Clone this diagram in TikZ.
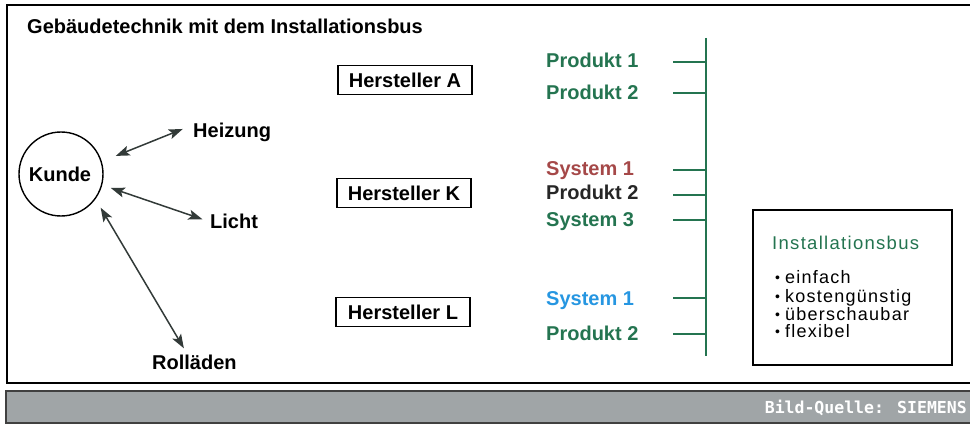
\documentclass[tikz,border=0pt]{standalone}
\usepackage{fontspec}
\setmainfont{Liberation Sans}
\newfontfamily\srcfont{DejaVu Sans Mono}
\usetikzlibrary{arrows.meta}
\definecolor{busgreen}{RGB}{36,116,80}
\definecolor{sysred}{RGB}{165,72,72}
\definecolor{sysblue}{RGB}{38,150,225}
\definecolor{bargray}{RGB}{160,165,167}
\definecolor{arrowgray}{RGB}{50,58,56}
\tikzset{
  bigtext/.style={font=\fontsize{20}{22}\selectfont\bfseries, inner sep=0pt},
  label/.style={bigtext, anchor=base west},
  maker/.style={draw=black, line width=1.6pt, minimum width=134pt, minimum height=29pt, inner sep=0pt, font=\fontsize{20}{22}\selectfont\bfseries},
  biarrow/.style={draw=arrowgray, line width=1.5pt, {Stealth[length=14pt,width=10pt,inset=3pt]}-{Stealth[length=14pt,width=10pt,inset=3pt]}},
  bus/.style={draw=busgreen, line width=2.6pt},
  listitem/.style={anchor=base west, inner sep=0pt, font=\fontsize{18}{19}\selectfont\addfontfeatures{LetterSpace=7}},
}
\newcommand{\blt}{\raisebox{0.5pt}{\fontsize{14}{14}\selectfont•}\hspace{5pt}}
\begin{document}
\begin{tikzpicture}[x=1pt,y=-1pt]
\useasboundingbox (0,0) rectangle (970,425);
% frame
\draw[line width=2.4pt] (972,5) -- (7,5) -- (7,383) -- (972,383);
% source bar
\fill[bargray] (6,391) rectangle (972,423);
\draw[line width=1.6pt, draw=black!75] (972,391) -- (6,391) -- (6,423) -- (972,423);
\node[anchor=base east, inner sep=0pt, text=white, font=\srcfont\bfseries\fontsize{16.5}{18}\selectfont] (src) at (967,413) {Bild-Quelle: SIEMENS};
% title
\node[label] (title) at (27,34) {Gebäudetechnik mit dem Installationsbus};
% customer
\node[draw, circle, line width=1.4pt, minimum size=84pt, inner sep=0pt] (kunde) at (61,174) {};
\node[bigtext] (kundetxt) at (60,174) {Kunde};
\node[label] (heiz) at (193,138) {Heizung};
\node[label] (licht) at (210,229) {Licht};
\node[label] (roll) at (152,369) {Rolläden};
\draw[biarrow, shorten <=15pt, shorten >=11pt] (kunde.17) -- ([yshift=8pt]heiz.west);
\draw[biarrow, shorten <=9pt, shorten >=8pt] (kunde.-15) -- (licht.west);
\draw[biarrow, shorten <=10pt, shorten >=7pt] (kunde.-36) -- ([xshift=-7pt]roll.north);
% manufacturers
\node[maker] (ha) at (405,80) {Hersteller A};
\node[maker] (hk) at (404,193) {Hersteller K};
\node[maker] (hl) at (403,312) {Hersteller L};
% products
\node[label, text=busgreen] (pa1) at (546,68) {Produkt 1};
\node[label, text=busgreen] (pa2) at (546,100) {Produkt 2};
\node[label, text=sysred] (pk1) at (546,176) {System 1};
\node[label, text=black!85] (pk2) at (546,200) {Produkt 2};
\node[label, text=busgreen] (pk3) at (546,226) {System 3};
\node[label, text=sysblue] (pl1) at (546,305) {System 1};
\node[label, text=busgreen] (pl2) at (546,340) {Produkt 2};
% bus
\coordinate (bustop) at (706,38);
\coordinate (busbot) at (706,356);
\draw[bus] (bustop) -- (busbot);
\foreach \n/\y in {1/62,2/93,3/170,4/195,5/220,6/298,7/334}{
  \coordinate (t\n) at (673,\y);
  \coordinate (b\n) at (706,\y);
  \draw[bus] (t\n) -- (b\n);
}
% info box
\node[draw, line width=2pt, minimum width=199pt, minimum height=155pt, inner sep=0pt] (info) at (852.5,287.5) {};
\node[anchor=base west, inner sep=0pt, text=busgreen, font=\fontsize{18.5}{20}\selectfont\addfontfeatures{LetterSpace=7}] (infotitle) at (772,249) {Installationsbus};
\node[listitem] (li1) at (775,283) {\blt einfach};
\node[listitem] (li2) at (775,302) {\blt kostengünstig};
\node[listitem] (li3) at (775,320) {\blt überschaubar};
\node[listitem] (li4) at (775,337) {\blt flexibel};
\end{tikzpicture}
\end{document}
